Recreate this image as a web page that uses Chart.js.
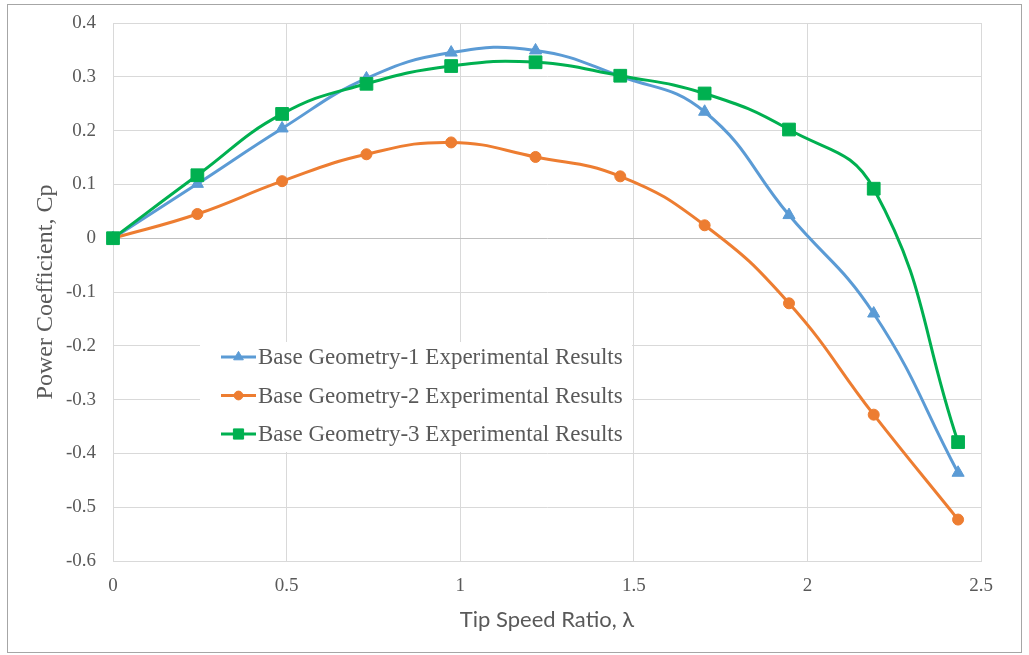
<!DOCTYPE html>
<html>
<head>
<meta charset="utf-8">
<script src="https://cdn.jsdelivr.net/npm/chart.js@4.4.0/dist/chart.umd.min.js"></script>
<style>
  html, body { margin: 0; padding: 0; background: #fff; }
  #wrap { position: relative; width: 1029px; height: 655px; }
</style>
</head>
<body>
<div id="wrap"><canvas id="cpChart" width="1029" height="655"></canvas></div>
<script>
// Tip speed ratio (x) and power coefficient (y) for each geometry
const tsr = [0, 0.243, 0.487, 0.730, 0.974, 1.217, 1.461, 1.704, 1.947, 2.191, 2.434];
const geo1 = [0, 0.101, 0.204, 0.297, 0.345, 0.349, 0.301, 0.235, 0.043, -0.140, -0.436];
const geo2 = [0, 0.045, 0.106, 0.156, 0.178, 0.151, 0.115, 0.024, -0.121, -0.328, -0.523];
const geo3 = [0, 0.117, 0.231, 0.287, 0.320, 0.327, 0.302, 0.269, 0.202, 0.092, -0.379];
const seriesNames = [
    'Base Geometry-1 Experimental Results',
    'Base Geometry-2 Experimental Results',
    'Base Geometry-3 Experimental Results'
];
const xTicks = [0, 0.5, 1, 1.5, 2, 2.5];
const yTicks = [-0.6, -0.5, -0.4, -0.3, -0.2, -0.1, 0, 0.1, 0.2, 0.3, 0.4];

const colors = ['#5b9bd5', '#ed7d31', '#00b050'];
const styles = ['triangle', 'circle', 'rect'];
const radii = [7, 5.5, 9];

function toPoints(ys) {
    return ys.map((y, i) => ({ x: tsr[i], y: y }));
}

const serif = '"Liberation Serif", "Times New Roman", serif';
const textColor = '#595959';

// white background + outer frame
const framePlugin = {
    id: 'frame',
    beforeDraw(chart) {
        const ctx = chart.ctx;
        ctx.save();
        ctx.fillStyle = '#fff';
        ctx.fillRect(0, 0, chart.width, chart.height);
        ctx.strokeStyle = '#a6a6a6';
        ctx.lineWidth = 1;
        ctx.strokeRect(7.5, 4.5, chart.width - 15, chart.height - 7);
        ctx.restore();
    }
};

// legend drawn inside the plot area
const insideLegend = {
    id: 'insideLegend',
    afterDraw(chart) {
        const ctx = chart.ctx;
        const area = chart.chartArea;
        const bx = area.left + 87;
        const by = area.top + 319;
        ctx.save();
        ctx.fillStyle = '#fff';
        ctx.fillRect(bx, by, 432, 110);
        ctx.font = '23px ' + serif;
        ctx.textBaseline = 'middle';
        ctx.textAlign = 'left';
        for (let i = 0; i < seriesNames.length; i++) {
            const y = by + 15 + i * 38.5;
            const x0 = bx + 21;
            ctx.strokeStyle = colors[i];
            ctx.lineWidth = 3;
            ctx.beginPath();
            ctx.moveTo(x0, y);
            ctx.lineTo(x0 + 35, y);
            ctx.stroke();
            ctx.fillStyle = colors[i];
            ctx.strokeStyle = colors[i];
            ctx.lineWidth = 1;
            Chart.helpers.drawPoint(ctx, { pointStyle: styles[i], radius: radii[i] * 0.8, rotation: 0, borderWidth: 1 }, x0 + 17.5, y);
            ctx.fillStyle = textColor;
            ctx.fillText(seriesNames[i], x0 + 37, y + 1);
        }
        ctx.restore();
    }
};

const ctx = document.getElementById('cpChart').getContext('2d');
const datasets = [geo1, geo2, geo3].map((ys, i) => ({
    label: seriesNames[i],
    data: toPoints(ys),
    borderColor: colors[i],
    backgroundColor: colors[i],
    borderWidth: 3,
    pointStyle: styles[i],
    pointRadius: radii[i],
    pointHoverRadius: radii[i],
    pointBorderWidth: 1,
    tension: 0.45,
    clip: false,
    order: 3 - i
}));

new Chart(ctx, {
    type: 'line',
    data: { datasets: datasets },
    options: {
        responsive: false,
        animation: false,
        devicePixelRatio: 1,
        layout: { autoPadding: false, padding: { left: 0, top: 23, right: 48, bottom: 0 } },
        plugins: {
            legend: { display: false },
            tooltip: { enabled: false }
        },
        scales: {
            x: {
                type: 'linear',
                min: 0,
                max: 2.5,
                afterBuildTicks: s => { s.ticks = xTicks.map(v => ({ value: v })); },
                afterFit: s => { s.height = 94; },
                grid: { color: '#d9d9d9', lineWidth: 1, drawTicks: false },
                border: { display: true, color: '#d9d9d9' },
                ticks: {
                    padding: 14,
                    color: textColor,
                    font: { family: serif, size: 19 },
                    callback: v => String(v)
                },
                title: {
                    display: true,
                    text: 'Tip Speed Ratio, λ',
                    color: textColor,
                    font: { family: 'Lato, "Open Sans", sans-serif', size: 22, lineHeight: 1.2 },
                    padding: { top: 0, bottom: 22 }
                }
            },
            y: {
                min: -0.6,
                max: 0.4,
                afterBuildTicks: s => { s.ticks = yTicks.map(v => ({ value: v })); },
                afterFit: s => { s.width = 113; s.paddingTop = 0; s.paddingBottom = 0; },
                grid: {
                    color: c => (c.tick && Math.abs(c.tick.value) < 1e-9 ? '#bfbfbf' : '#d9d9d9'),
                    lineWidth: 1,
                    drawTicks: false
                },
                border: { display: true, color: '#d9d9d9' },
                ticks: {
                    padding: 17,
                    color: textColor,
                    font: { family: serif, size: 19 },
                    callback: v => String(Math.round(v * 10) / 10)
                },
                title: {
                    display: true,
                    text: 'Power Coefficient, Cp',
                    color: textColor,
                    font: { family: serif, size: 24, lineHeight: 1.2 },
                    padding: { top: 31, bottom: 0 }
                }
            }
        }
    },
    plugins: [framePlugin, insideLegend]
});
</script>
</body>
</html>
